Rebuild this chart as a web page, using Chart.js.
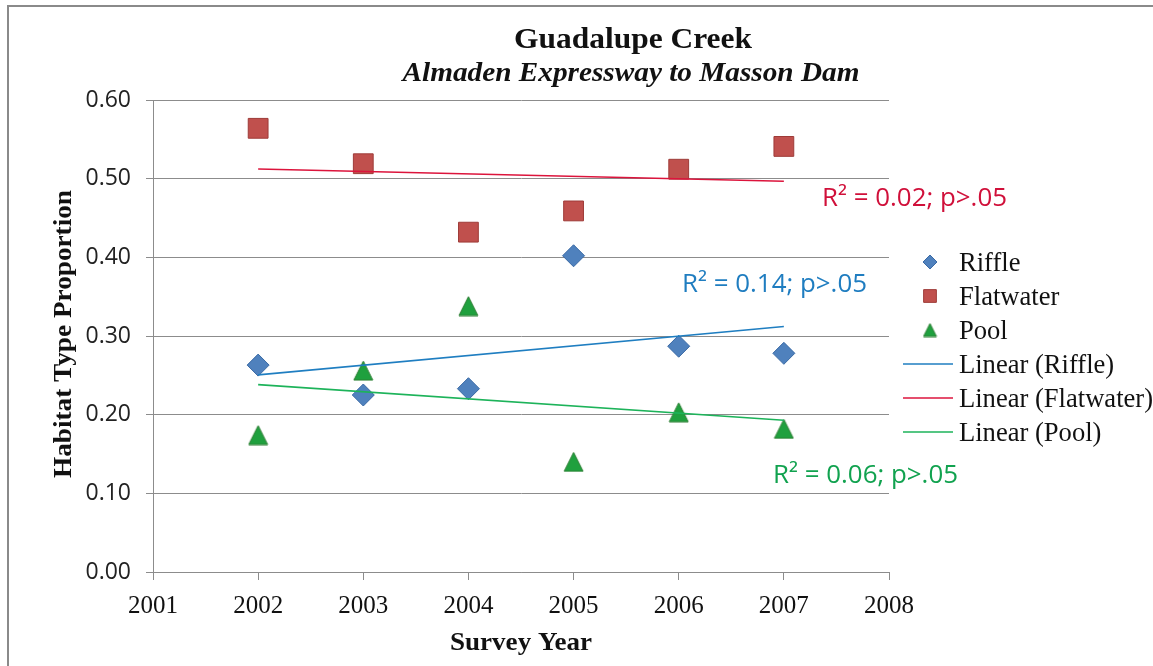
<!DOCTYPE html>
<html>
<head>
<meta charset="utf-8">
<script src="https://cdn.jsdelivr.net/npm/chart.js@4.4.1/dist/chart.umd.min.js"></script>
<style>
html, body { margin: 0; padding: 0; background: #fff; }
#wrap { width: 1153px; height: 666px; position: relative; }
</style>
</head>
<body>
<div id="wrap"><canvas id="chart" width="1153" height="666"></canvas></div>
<script>
// values
const years = [2002, 2003, 2004, 2005, 2006, 2007];
const riffle = [0.263, 0.225, 0.233, 0.402, 0.287, 0.278];
const flatwater = [0.564, 0.519, 0.432, 0.459, 0.512, 0.541];
const pool = [0.174, 0.256, 0.338, 0.140, 0.203, 0.182];
const seriesNames = ['Riffle', 'Flatwater', 'Pool'];
const fitNames = ['Linear (Riffle)', 'Linear (Flatwater)', 'Linear (Pool)'];
const fitLabels = ['R\u00b2 = 0.14; p>.05', 'R\u00b2 = 0.02; p>.05', 'R\u00b2 = 0.06; p>.05'];
const xTicks = [2001, 2002, 2003, 2004, 2005, 2006, 2007, 2008];
const yTicks = [0.00, 0.10, 0.20, 0.30, 0.40, 0.50, 0.60];

const blue = '#4F81BD', red = '#C0504D', green = '#1FA03E';
const blueLine = '#1F7EC1', redLine = '#DC143C', greenLine = '#1DB35A';
const gridGray = '#8c8c8c';

// least squares line through the points, evaluated at first and last year
function linearFit(xs, ys) {
  const n = xs.length;
  const mx = xs.reduce((a, b) => a + b, 0) / n;
  const my = ys.reduce((a, b) => a + b, 0) / n;
  let sxy = 0, sxx = 0;
  xs.forEach((x, i) => { sxy += (x - mx) * (ys[i] - my); sxx += (x - mx) * (x - mx); });
  const b = sxy / sxx, a = my - b * mx;
  return [xs[0], xs[n - 1]].map(x => ({ x: x, y: a + b * x }));
}

const pts = vals => years.map((y, i) => ({ x: y, y: vals[i] }));

// excel style triangle, centred on its box
function triangleImg(size) {
  const c = document.createElement('canvas');
  c.width = size + 2; c.height = size + 2;
  const g = c.getContext('2d');
  g.beginPath();
  g.moveTo(1, size + 1); g.lineTo((size + 2) / 2, 1); g.lineTo(size + 1, size + 1);
  g.closePath();
  g.fillStyle = green; g.fill();
  g.strokeStyle = '#2D7E33'; g.lineWidth = 1; g.stroke();
  return c;
}
const triBig = triangleImg(19), triSmall = triangleImg(13);

function txt(ctx, s, x, y, font, color, align, w) {
  ctx.save();
  ctx.font = font;
  ctx.fillStyle = color;
  ctx.textBaseline = 'alphabetic';
  ctx.textAlign = align;
  const sx = w ? w / ctx.measureText(s).width : 1;
  ctx.translate(x, y);
  ctx.scale(sx, 1);
  ctx.fillText(s, 0, 0);
  ctx.restore();
}

const decor = {
  id: 'decor',
  beforeDraw(chart) {
    const ctx = chart.ctx;
    ctx.save();
    ctx.fillStyle = '#fff';
    ctx.fillRect(0, 0, chart.width, chart.height);
    ctx.strokeStyle = '#8a8a8a';
    ctx.lineWidth = 2;
    ctx.beginPath();
    ctx.moveTo(8, 667); ctx.lineTo(8, 6); ctx.lineTo(1153, 6);
    ctx.stroke();
    ctx.restore();
  },
  afterDraw(chart) {
    const ctx = chart.ctx;
    const serif = '"Liberation Serif", "Times New Roman", serif';
    const sans = '"Open Sans", Calibri, sans-serif';

    txt(ctx, 'Guadalupe Creek', 633, 48, 'bold 30px ' + serif, '#111', 'center', 238);
    txt(ctx, 'Almaden Expressway to Masson Dam', 631, 81, 'italic bold 27px ' + serif, '#111', 'center', 457);
    txt(ctx, 'Survey Year', 521, 650, 'bold 25px ' + serif, '#111', 'center', 142);

    ctx.save();
    ctx.translate(71, 334);
    ctx.rotate(-Math.PI / 2);
    txt(ctx, 'Habitat Type Proportion', 0, 0, 'bold 26px ' + serif, '#111', 'center', 288);
    ctx.restore();

    txt(ctx, fitLabels[1], 822, 206, '26px ' + sans, '#D0103A', 'left', 185);
    txt(ctx, fitLabels[0], 682, 292, '26px ' + sans, '#1F7DC0', 'left', 185);
    txt(ctx, fitLabels[2], 773, 483, '26px ' + sans, '#11A24F', 'left', 185);

    // legend
    const lf = '27px ' + serif;
    ctx.save();
    ctx.font = lf;
    const lsx = 194 / ctx.measureText(fitNames[1]).width;
    ctx.restore();
    const styles = [
      { pointStyle: 'rectRot', radius: 7, bg: blue, bd: '#3A6AA5' },
      { pointStyle: 'rect', radius: 9, bg: red, bd: '#9E3B38' },
      { pointStyle: triSmall, radius: 7, bg: green, bd: '#2D7E33' }
    ];
    const lineColors = [blueLine, redLine, greenLine];
    const names = seriesNames.concat(fitNames);
    names.forEach((name, i) => {
      const cy = 262 + 34 * i;
      if (i < 3) {
        const s = styles[i];
        ctx.save();
        ctx.fillStyle = s.bg;
        ctx.strokeStyle = s.bd;
        ctx.lineWidth = 1;
        Chart.helpers.drawPoint(ctx, { pointStyle: s.pointStyle, radius: s.radius, borderWidth: 1, rotation: 0 }, 930, cy);
        ctx.restore();
      } else {
        ctx.save();
        ctx.strokeStyle = lineColors[i - 3];
        ctx.lineWidth = 1.5;
        ctx.beginPath();
        ctx.moveTo(903, cy); ctx.lineTo(953, cy);
        ctx.stroke();
        ctx.restore();
      }
      ctx.save();
      ctx.font = lf;
      ctx.fillStyle = '#111';
      ctx.textBaseline = 'alphabetic';
      ctx.translate(959, cy + 9);
      ctx.scale(lsx, 1);
      ctx.fillText(name, 0, 0);
      ctx.restore();
    });
  }
};

const markerSet = (label, vals, style, r, bg, bd) => ({
  type: 'scatter', label: label, data: pts(vals), order: 2,
  pointStyle: style, pointRadius: r, pointHoverRadius: r,
  backgroundColor: bg, borderColor: bd, borderWidth: 1
});
const fitSet = (label, vals, color) => ({
  type: 'line', label: label, data: linearFit(years, vals), order: 1,
  showLine: true, pointRadius: 0, borderColor: color, borderWidth: 1.6, fill: false
});

new Chart(document.getElementById('chart'), {
  type: 'scatter',
  data: {
    datasets: [
      markerSet(seriesNames[0], riffle, 'rectRot', 11, blue, '#3A6AA5'),
      markerSet(seriesNames[1], flatwater, 'rect', 14, red, '#9E3B38'),
      markerSet(seriesNames[2], pool, triBig, 10, green, '#2D7E33'),
      fitSet(fitNames[0], riffle, blueLine),
      fitSet(fitNames[1], flatwater, redLine),
      fitSet(fitNames[2], pool, greenLine)
    ]
  },
  options: {
    responsive: false,
    animation: false,
    devicePixelRatio: 1,
    layout: { padding: { top: 100, right: 264, left: 0, bottom: 0 } },
    plugins: { legend: { display: false }, title: { display: false }, tooltip: { enabled: false } },
    scales: {
      x: {
        type: 'linear', min: xTicks[0], max: xTicks[xTicks.length - 1],
        afterBuildTicks: s => { s.ticks = xTicks.map(v => ({ value: v })); },
        afterFit: s => { s.height = 94; },
        grid: { drawOnChartArea: false, drawTicks: true, tickLength: 8, color: gridGray },
        border: { display: true, color: gridGray, width: 1 },
        ticks: { padding: 11, color: '#111', font: { family: '"Liberation Serif", serif', size: 25 }, callback: v => String(v) }
      },
      y: {
        type: 'linear', min: 0, max: 0.6,
        afterBuildTicks: s => { s.ticks = yTicks.map(v => ({ value: v })); },
        afterFit: s => { s.width = 153; },
        grid: { color: gridGray, lineWidth: 1, drawTicks: true, tickLength: 7 },
        border: { display: true, color: gridGray, width: 1 },
        ticks: { padding: 15, color: '#222', font: { family: '"Open Sans", sans-serif', size: 23 }, callback: v => v.toFixed(2) }
      }
    }
  },
  plugins: [decor]
});
</script>
</body>
</html>
